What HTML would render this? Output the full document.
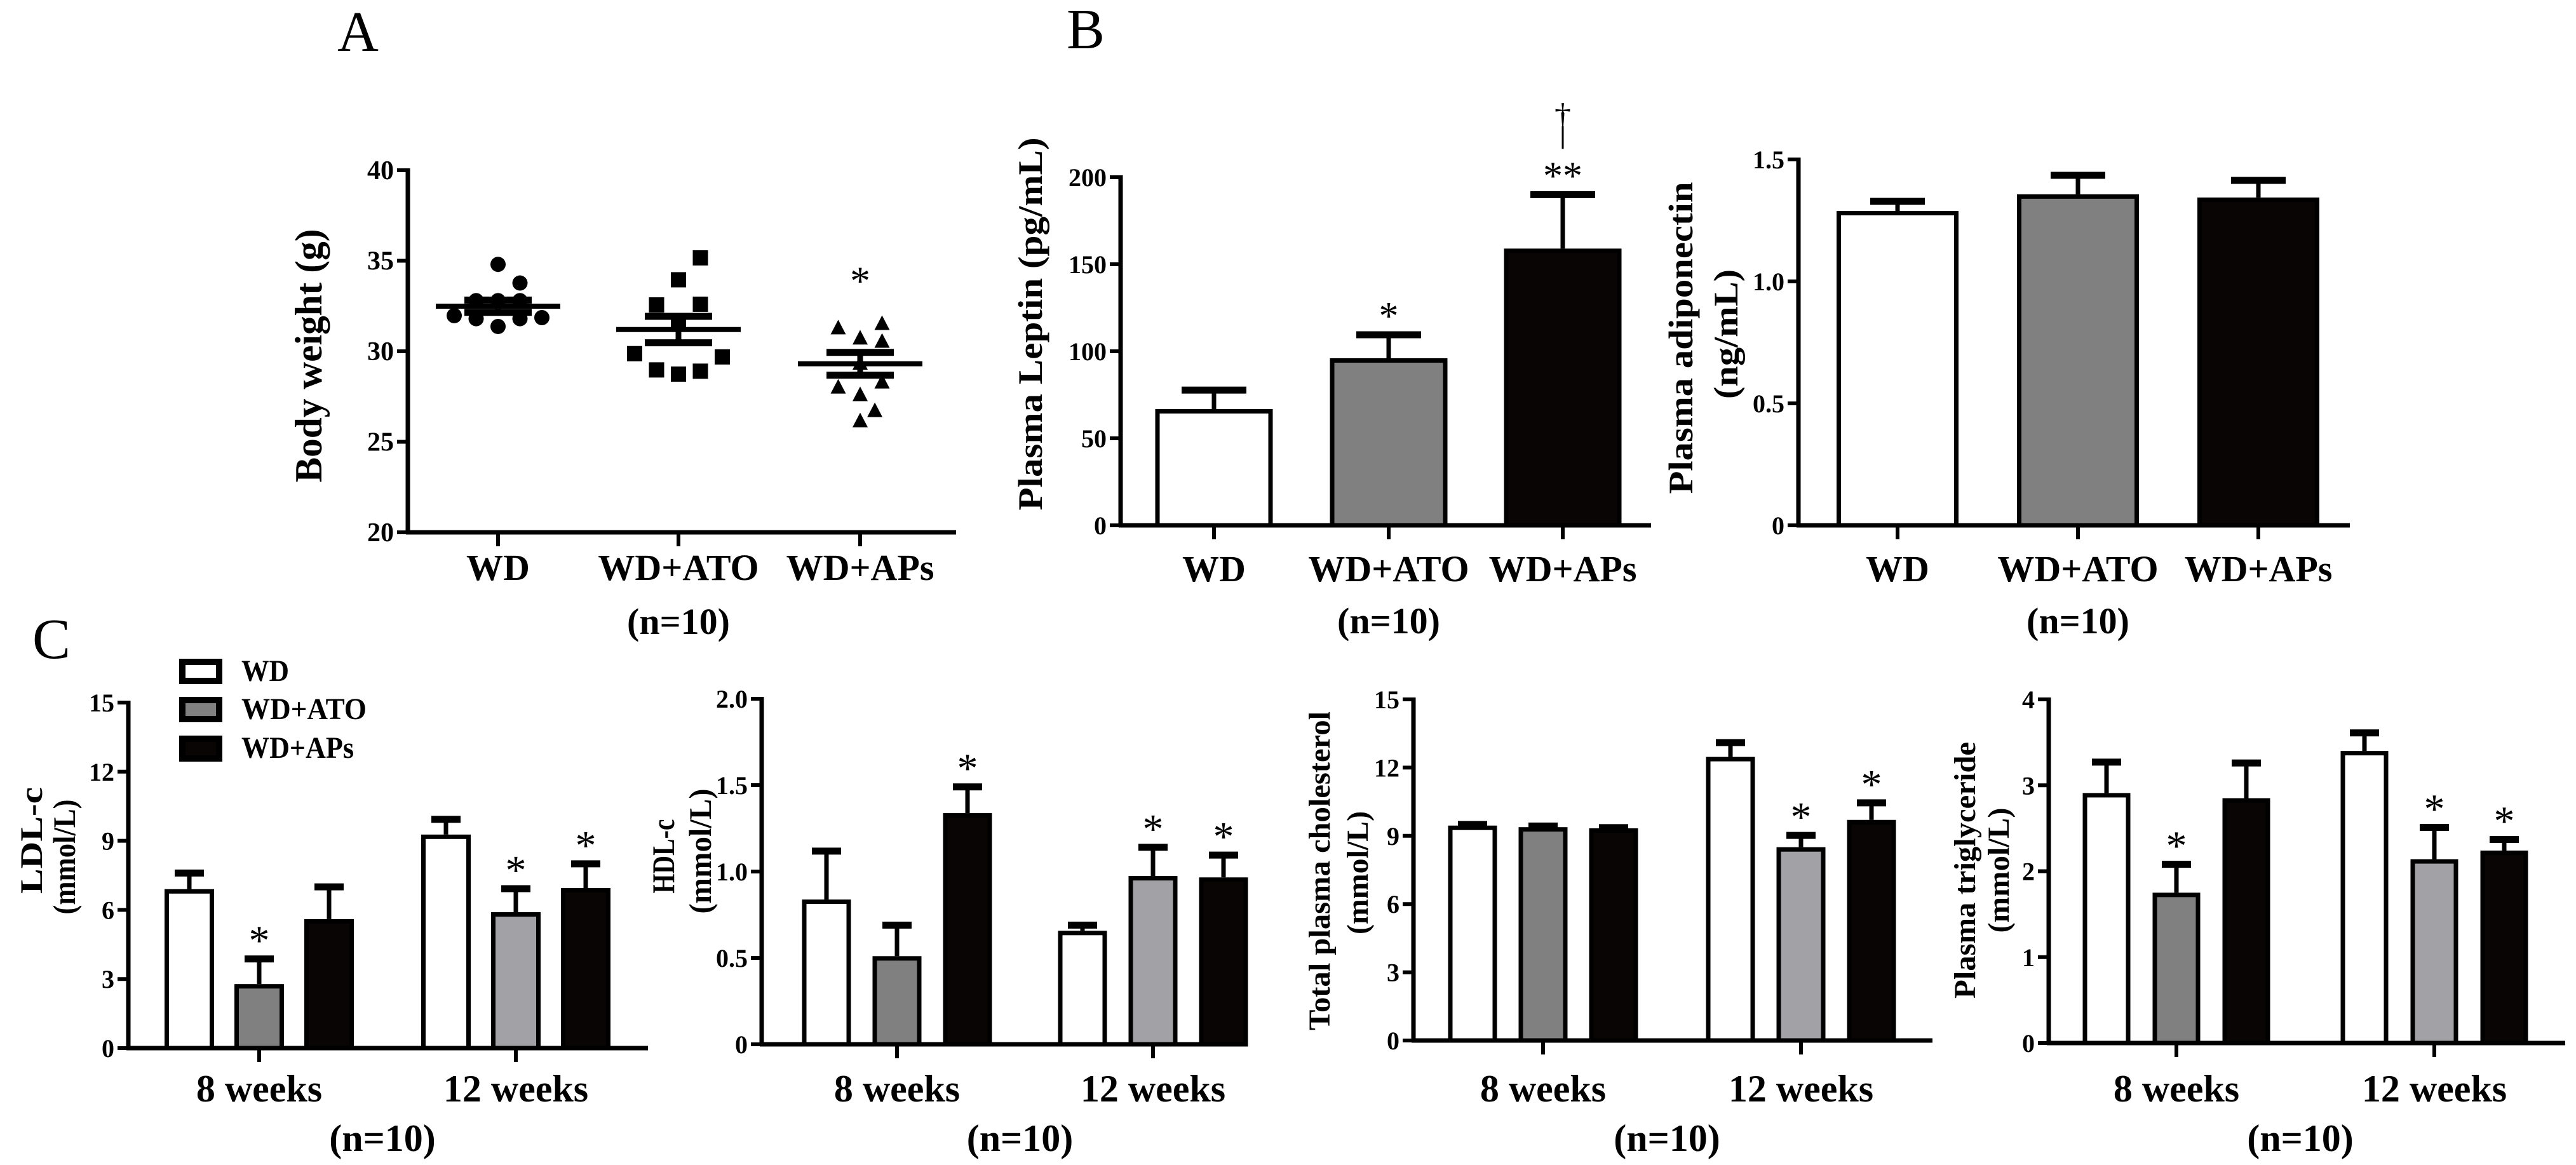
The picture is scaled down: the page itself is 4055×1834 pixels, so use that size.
<!DOCTYPE html>
<html><head><meta charset="utf-8">
<style>
html,body{margin:0;padding:0;background:#fff;}
svg{display:block;font-family:"Liberation Serif",serif;}
text{fill:#000;}
</style></head>
<body>
<svg id="fig" width="4055" height="1834" viewBox="0 0 4055 1834" xmlns="http://www.w3.org/2000/svg">
<rect x="0" y="0" width="4055" height="1834" fill="#fff"/>
<text x="531" y="80" font-size="90">A</text>
<text x="1679" y="76" font-size="90">B</text>
<text x="51" y="1036" font-size="90">C</text>
<g>
<rect x="287" y="1042" width="58" height="30" fill="#fff" stroke="#000" stroke-width="10"/>
<rect x="287" y="1102" width="58" height="30" fill="#808080" stroke="#000" stroke-width="10"/>
<rect x="287" y="1163" width="58" height="31" fill="#0a0505" stroke="#000" stroke-width="10"/>
<text x="380" y="1072" font-size="48" font-weight="bold" textLength="75" lengthAdjust="spacingAndGlyphs">WD</text>
<text x="380" y="1132" font-size="48" font-weight="bold" textLength="197" lengthAdjust="spacingAndGlyphs">WD+ATO</text>
<text x="380" y="1193" font-size="48" font-weight="bold" textLength="177" lengthAdjust="spacingAndGlyphs">WD+APs</text>
</g>
</svg>
<script>
// ---------- data ----------
const groupNames = ["WD", "WD+ATO", "WD+APs"];
const weekNames = ["8 weeks", "12 weeks"];
// Panel A body weight (g)
const bodyWD  = [34.8, 33.77, 32.8, 32.8, 32.8, 31.97, 31.8, 31.8, 31.86, 31.37];
const bodyATO = [35.16, 33.95, 32.56, 32.6, 29.87, 29.69, 28.97, 28.74, 28.9, 31.56];
const bodyAPs = [31.25, 31.49, 30.69, 30.51, 27.98, 28.26, 27.56, 26.68, 26.12, 29.3];
const bodyMean = [32.49, 31.2, 29.31];
const bodySem = [0.34, 0.73, 0.63];
const bodyTicks = [20, 25, 30, 35, 40];
// Panel B
const leptinMean = [66.8, 96, 159];
const leptinErr = [10.9, 13.5, 31];
const leptinSig = ["", "*", "**"];
const leptinTicks = [0, 50, 100, 150, 200];
const adipoMean = [1.289, 1.357, 1.344];
const adipoErr = [0.039, 0.078, 0.07];
const adipoTicks = [0, 0.5, 1.0, 1.5];
const adipoTickLabels = ["0", "0.5", "1.0", "1.5"];
// Panel C
const ldl8 = [6.9, 2.78, 5.6],  ldl8Err = [0.7, 1.09, 1.4];
const ldl12 = [9.27, 5.9, 6.95], ldl12Err = [0.66, 1.02, 1.05];
const ldlSig8 = ["", "*", ""], ldlSig12 = ["", "*", "*"];
const ldlTicks = [0, 3, 6, 9, 12, 15];
const hdl8 = [0.838, 0.51, 1.338], hdl8Err = [0.28, 0.18, 0.152];
const hdl12 = [0.657, 0.974, 0.966], hdl12Err = [0.033, 0.166, 0.129];
const hdlSig8 = ["", "", "*"], hdlSig12 = ["", "*", "*"];
const hdlTicks = [0, 0.5, 1.0, 1.5, 2.0];
const hdlTickLabels = ["0", "0.5", "1.0", "1.5", "2.0"];
const tc8 = [9.45, 9.38, 9.33], tc8Err = [0.05, 0.05, 0.03];
const tc12 = [12.47, 8.5, 9.7], tc12Err = [0.63, 0.52, 0.75];
const tcSig8 = ["", "", ""], tcSig12 = ["", "*", "*"];
const tcTicks = [0, 3, 6, 9, 12, 15];
const tg8 = [2.91, 1.75, 2.85], tg8Err = [0.36, 0.33, 0.41];
const tg12 = [3.4, 2.14, 2.24], tg12Err = [0.21, 0.37, 0.13];
const tgSig8 = ["", "*", ""], tgSig12 = ["", "*", "*"];
const tgTicks = [0, 1, 2, 3, 4];

// ---------- drawing ----------
const NS = "http://www.w3.org/2000/svg";
const svg = document.getElementById("fig");
function mk(tag, attrs, parent) {
  const e = document.createElementNS(NS, tag);
  for (const k in attrs) e.setAttribute(k, attrs[k]);
  (parent || svg).appendChild(e);
  return e;
}
function txt(parent, x, y, s, size, anchor, bold) {
  const t = mk("text", {x: x, y: y, "font-size": size, "text-anchor": anchor || "middle", "font-weight": bold === false ? "normal" : "bold"}, parent);
  t.textContent = s;
  return t;
}
function linY(vmin, vmax, pmin, pmax) { return v => pmin + (v - vmin) / (vmax - vmin) * (pmax - pmin); }

function axes(g, ax, y0, xEnd, yScale, ticks, labels, labelSize) {
  const a = mk("line", {x1: ax, y1: yScale(ticks[ticks.length - 1]) - 3, x2: ax, y2: y0 + 3, stroke: "#000", "stroke-width": 7}, g);
  
  
  const b = mk("line", {x1: ax - 3, y1: y0, x2: xEnd, y2: y0, stroke: "#000", "stroke-width": 7}, g);
  
  
  ticks.forEach((v, i) => {
    const y = yScale(v);
    const tk = mk("line", {x1: ax - 17, y1: y, x2: ax, y2: y, stroke: "#000", "stroke-width": 6}, g);
    
    
    const t = txt(g, ax - 22, y + 14, labels ? labels[i] : String(v), labelSize || 40, "end");
    
    
  });
}
function xTick(g, x, y0) {
  const tk = mk("line", {x1: x, y1: y0, x2: x, y2: y0 + 22, stroke: "#000", "stroke-width": 6}, g);
  
  
}
function ytitle(g, lines) {
  lines.forEach(l => {
    const t = mk("text", {x: 0, y: 0, "font-size": l.size || 50, "font-weight": "bold", "text-anchor": "middle",
      textLength: l.len, lengthAdjust: "spacingAndGlyphs",
      transform: "translate(" + l.bx + "," + l.cy + ") rotate(-90)"}, g);
    t.textContent = l.s;
    
    
  });
}
function bar(g, cx, w, val, err, y, y0, fill, sig, capW, starSize, name) {
  const top = y(val), et = y(val + err);
  const sw = 7;
  const stem = mk("line", {x1: cx, y1: top, x2: cx, y2: et, stroke: "#000", "stroke-width": 7}, g);
  
  
  const cap = mk("line", {x1: cx - capW / 2, y1: et, x2: cx + capW / 2, y2: et, stroke: "#000", "stroke-width": 11}, g);
  
  
  const r = mk("rect", {x: cx - w / 2 + sw / 2, y: top + sw / 2, width: w - sw, height: Math.max(0, y0 - top - sw / 2), fill: fill, stroke: "#000", "stroke-width": sw}, g);
  
  
  if (sig) {
    const s = txt(g, cx, et + (starSize * 0.47) - 38, sig, starSize, "middle", false);
    
    
  }
  return et;
}

// ---- Panel A ----
(function () {
  const g = mk("g", {});
  
  
  const ax = 642, y0 = 838, xEnd = 1505;
  const y = linY(20, 40, 838, 268);
  const centers = [784, 1068, 1354];
  const slotW = 34.5;
  const slots = [
    [0, 1, -1, 0, 1, -2, -1, 1, 2, 0],
    [1, 0, -1, 1, -2, 2, -1, 0, 1, 0],
    [-1, 1, 0, 1, -1, 1, 0, 0.67, 0, 0]
  ];
  axes(g, ax, y0, xEnd, y, bodyTicks, null, 42);
  const series = [bodyWD, bodyATO, bodyAPs];
  series.forEach((vals, gi) => {
    const cx = centers[gi];
    xTick(g, cx, y0);
    const l = txt(g, cx, 913, groupNames[gi], 58);
    
    
    vals.forEach((v, i) => {
      const px = cx + slots[gi][i] * slotW, py = y(v);
      let m;
      if (gi === 0) m = mk("circle", {cx: px, cy: py, r: 12, fill: "#000"}, g);
      else if (gi === 1) m = mk("rect", {x: px - 12, y: py - 12, width: 24, height: 24, fill: "#000"}, g);
      else m = mk("polygon", {points: (px) + "," + (py - 14) + " " + (px - 12) + "," + (py + 9) + " " + (px + 12) + "," + (py + 9), fill: "#000"}, g);
      
      
    });
    const mn = mk("line", {x1: cx - 98, y1: y(bodyMean[gi]), x2: cx + 98, y2: y(bodyMean[gi]), stroke: "#000", "stroke-width": 8}, g);
    
    
    const st = mk("line", {x1: cx, y1: y(bodyMean[gi] + bodySem[gi]), x2: cx, y2: y(bodyMean[gi] - bodySem[gi]), stroke: "#000", "stroke-width": 9}, g);
    
    
    [1, -1].forEach(sg => {
      const c = mk("line", {x1: cx - 53, y1: y(bodyMean[gi] + sg * bodySem[gi]), x2: cx + 53, y2: y(bodyMean[gi] + sg * bodySem[gi]), stroke: "#000", "stroke-width": 11}, g);
      
      
    });
  });
  const s = txt(g, centers[2], y(Math.max.apply(null, bodyAPs)) - 77 + 30, "*", 64, "middle", false);
  
  
  const n = txt(g, centers[1], 998, "(n=10)", 58);
  
  
  ytitle(g, [{s: "Body weight (g)", bx: 506, cy: 560, len: 399, size: 60}]);
})();

// ---- Panel B ----
function topBar(name, ax, y0, yt, vmax, xEnd, centers, w, means, errs, ticks, labels, sigs, capW, titleLines, fills) {
  const g = mk("g", {});
  
  
  const y = linY(0, vmax, y0, yt);
  axes(g, ax, y0, xEnd, y, ticks, labels, 40);
  const tops = [];
  means.forEach((v, i) => {
    xTick(g, centers[i], y0);
    tops.push(bar(g, centers[i], w, v, errs[i], y, y0, fills[i], sigs ? sigs[i] : "", capW, 62, "bar-" + groupNames[i].toLowerCase().replace("+", "-")));
    const l = txt(g, centers[i], 915, groupNames[i], 58);
    
    
  });
  const n = txt(g, centers[1], 997, "(n=10)", 58);
  
  
  ytitle(g, titleLines);
  return {g: g, tops: tops, centers: centers};
}
const lep = topBar("leptin-chart", 1764, 827, 279, 200, 2599, [1911, 2186, 2460], 185, leptinMean, leptinErr, leptinTicks, null, leptinSig, 102,
  [{s: "Plasma Leptin (pg/mL)", bx: 1640, cy: 510, len: 587, size: 54}], ["#fff", "#808080", "#0a0505"]);
(function () {
  const et = lep.tops[2], cx = lep.centers[2];
  const dl = mk("line", {x1: cx, y1: et - 72, x2: cx, y2: et - 108, stroke: "#000", "stroke-width": 3}, lep.g);
  
  
  const d = txt(lep.g, cx, et - 108, "\u2020", 52, "middle", false);
  
  
})();
topBar("adiponectin-chart", 2831, 827, 251, 1.5, 3699, [2987, 3271, 3555], 192, adipoMean, adipoErr, adipoTicks, adipoTickLabels, null, 86,
  [{s: "Plasma adiponectin", bx: 2664, cy: 532, len: 491, size: 54}, {s: "(ng/mL)", bx: 2735, cy: 526, len: 204, size: 54}],
  ["#fff", "#808080", "#0a0505"]);

// ---- Panel C ----
function cChart(name, ax, y0, yt, vmax, xEnd, gcenters, off, w, d8, e8, d12, e12, s8, s12, ticks, labels, titleLines) {
  const g = mk("g", {});
  
  
  const y = linY(0, vmax, y0, yt);
  axes(g, ax, y0, xEnd, y, ticks, labels, 40);
  const fills = [["#fff", "#808080", "#0a0505"], ["#fff", "#a2a2a6", "#0a0505"]];
  [[d8, e8, s8], [d12, e12, s12]].forEach((set, gi) => {
    const gc = gcenters[gi];
    xTick(g, gc, y0);
    set[0].forEach((v, i) => {
      bar(g, gc + (i - 1) * off, w, v, set[1][i], y, y0, fills[gi][i], set[2][i], 46, 66,
        "bar-" + (gi === 0 ? "8w" : "12w") + "-" + groupNames[i].toLowerCase().replace("+", "-"));
    });
    const l = txt(g, gc, 1734, weekNames[gi], 60);
    
    
  });
  const n = txt(g, (gcenters[0] + gcenters[1]) / 2 - 8, 1812, "(n=10)", 60);
  
  
  ytitle(g, titleLines);
}
cChart("ldl-chart", 202, 1650, 1106, 15, 1020, [408, 812], 110, 78, ldl8, ldl8Err, ldl12, ldl12Err, ldlSig8, ldlSig12, ldlTicks, null,
  [{s: "LDL-c", bx: 66, cy: 1323, len: 168, size: 50}, {s: "(mmol/L)", bx: 118, cy: 1349, len: 181, size: 50}]);
cChart("hdl-chart", 1199, 1644, 1100, 2.0, 1927, [1412, 1815], 111, 77, hdl8, hdl8Err, hdl12, hdl12Err, hdlSig8, hdlSig12, hdlTicks, hdlTickLabels,
  [{s: "HDL-c", bx: 1061, cy: 1348, len: 117, size: 50}, {s: "(mmol/L)", bx: 1119, cy: 1340, len: 197, size: 50}]);
cChart("total-cholesterol-chart", 2225, 1638, 1101, 15, 3042, [2429, 2835], 111, 77, tc8, tc8Err, tc12, tc12Err, tcSig8, tcSig12, tcTicks, null,
  [{s: "Total plasma cholesterol", bx: 2093, cy: 1371, len: 502, size: 48}, {s: "(mmol/L)", bx: 2153, cy: 1374, len: 194, size: 48}]);
cChart("triglyceride-chart", 3225, 1642, 1101, 4, 4038, [3426, 3832], 110, 75, tg8, tg8Err, tg12, tg12Err, tgSig8, tgSig12, tgTicks, null,
  [{s: "Plasma triglyceride", bx: 3109, cy: 1370, len: 404, size: 48}, {s: "(mmol/L)", bx: 3162, cy: 1370, len: 197, size: 48}]);
</script>
</body></html>
